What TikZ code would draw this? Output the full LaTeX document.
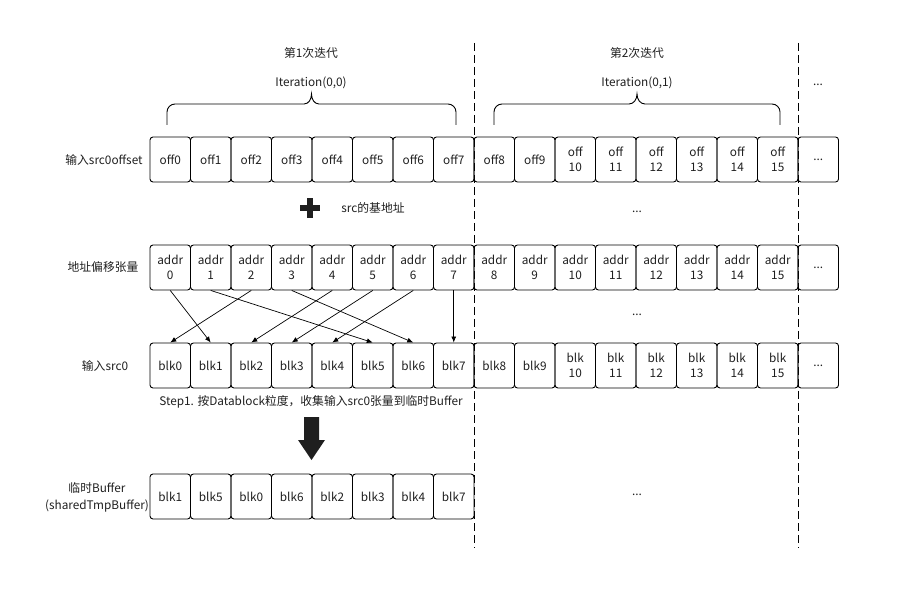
\documentclass[tikz,border=0pt]{standalone}
\usepackage{fontspec}
\setmainfont{Noto Sans CJK SC}
\usetikzlibrary{arrows.meta}
\newcommand\fs{\fontsize{11.8}{15}\selectfont}
\newcommand\dd{...}
\definecolor{ink}{HTML}{1F1F1F}
\begin{document}
\begin{tikzpicture}[x=1pt,y=-1pt,
  box/.style={draw=black, line width=0.9pt, rounded corners=3pt, minimum width=40.5pt, minimum height=45pt, inner sep=0pt, align=center, font=\fs, text=ink},
  lbl/.style={inner sep=0pt, align=center, font=\fs, text=ink},
  arr/.style={-{Latex[length=6pt,width=5pt]}, line width=0.7pt},
  sep/.style={dash pattern=on 8pt off 4pt, line width=0.9pt},
  brace/.style={line width=0.9pt}]
\useasboundingbox (0,0) rectangle (918,593);
% iteration separators
\coordinate (s1t) at (474,43); \coordinate (s1b) at (474,548);
\coordinate (s2t) at (798,43); \coordinate (s2b) at (798,548);
\draw[sep] (s1t) -- (s1b);
\draw[sep] (s2t) -- (s2b);
% headers
\node[lbl] (h1) at (311,53) {第1次迭代};
\node[lbl] (i1) at (311,83) {Iteration(0,0)};
\node[lbl] (h2) at (637,53) {第2次迭代};
\node[lbl] (i2) at (637,83) {Iteration(0,1)};
\node[lbl] (hd) at (818,85) {\dd};
% braces
\draw[brace] (167,125) -- (167,112) to[out=90,in=180] (175,104) -- (304,104) to[out=0,in=-90] (311.5,94) to[out=-90,in=180] (319,104) -- (448,104) to[out=0,in=90] (456,112) -- (456,125);
\draw[brace] (494,125) -- (494,112) to[out=90,in=180] (502,104) -- (629,104) to[out=0,in=-90] (637,94) to[out=-90,in=180] (645,104) -- (772,104) to[out=0,in=90] (780,112) -- (780,125);
% row labels
\node[lbl] (l1) at (104,159.5) {输入src0offset};
\node[lbl] (l2) at (103,267.5) {地址偏移张量};
\node[lbl] (l3) at (105,365.5) {输入src0};
\node[lbl, font=\fontsize{11.8}{17}\selectfont] (l4) at (97,497) {临时Buffer\\(sharedTmpBuffer)};
% row 1
\foreach \t [count=\i from 0] in {off0,off1,off2,off3,off4,off5,off6,off7,off8,off9,{off\\10},{off\\11},{off\\12},{off\\13},{off\\14},{off\\15},{\dd}}
  \node[box] (o\i) at ({150+40.5*(\i+0.5)},159.5) {\t};
% plus and base address
\fill[ink] (307,198) rectangle (313,218);
\fill[ink] (300,205) rectangle (320,211);
\node[lbl] (base) at (373,208) {src的基地址};
\node[lbl] (d1) at (637,212) {\dd};
% row 2
\foreach \t [count=\i from 0] in {{addr\\0},{addr\\1},{addr\\2},{addr\\3},{addr\\4},{addr\\5},{addr\\6},{addr\\7},{addr\\8},{addr\\9},{addr\\10},{addr\\11},{addr\\12},{addr\\13},{addr\\14},{addr\\15},{\dd}}
  \node[box] (a\i) at ({150+40.5*(\i+0.5)},267.5) {\t};
\node[lbl] (d2) at (637,315) {\dd};
% row 3
\foreach \t [count=\i from 0] in {blk0,blk1,blk2,blk3,blk4,blk5,blk6,blk7,blk8,blk9,{blk\\10},{blk\\11},{blk\\12},{blk\\13},{blk\\14},{blk\\15},{\dd}}
  \node[box] (b\i) at ({150+40.5*(\i+0.5)},365.5) {\t};
% gather arrows
\foreach \s/\d in {0/1,1/5,2/0,3/6,4/2,5/3,6/4,7/7}
  \draw[arr] (a\s.south) -- (b\d.north);
% step text and big arrow
\node[lbl] (step) at (311,402) {Step1. 按Datablock粒度，收集输入src0张量到临时Buffer};
\fill[ink] (304,417) -- (319,417) -- (319,440) -- (325,440) -- (311.5,460) -- (298,440) -- (304,440) -- cycle;
% row 4
\foreach \t [count=\i from 0] in {blk1,blk5,blk0,blk6,blk2,blk3,blk4,blk7}
  \node[box] (t\i) at ({150+40.5*(\i+0.5)},496.5) {\t};
\node[lbl] (d3) at (637,495) {\dd};
\end{tikzpicture}
\end{document}
